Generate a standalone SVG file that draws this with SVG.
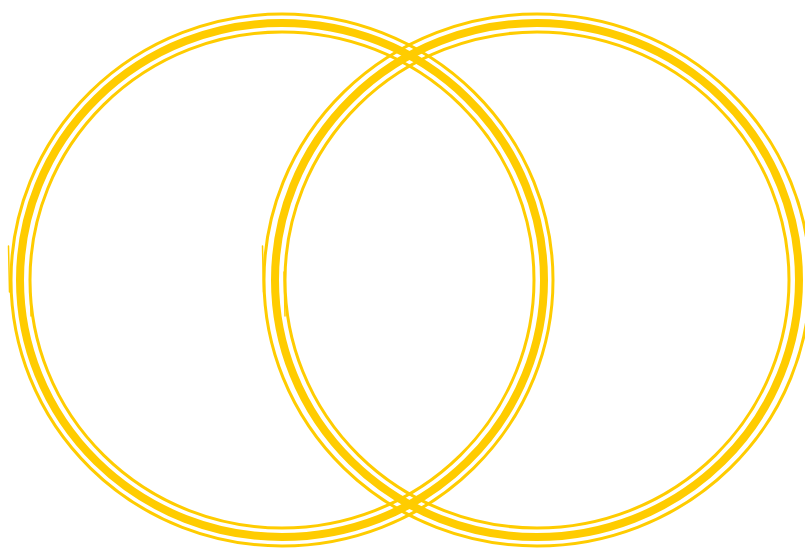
<svg xmlns="http://www.w3.org/2000/svg" width="805" height="550" viewBox="0 0 805 550">
  <style>
    .thin { fill: none; stroke: #ffcc00; stroke-width: 3; }
    .thick { fill: none; stroke: #ffcc00; stroke-width: 8; }
    .tick { fill: none; stroke: #ffcc00; stroke-width: 1.5; stroke-linecap: round; }
  </style>
  <rect width="805" height="550" fill="#ffffff"/>
  <g id="circle-left">
    <ellipse class="thin" cx="282" cy="280" rx="271" ry="266"/>
    <ellipse class="thick" cx="282" cy="280" rx="262" ry="257"/>
    <ellipse class="thin" cx="282" cy="280" rx="252" ry="248"/>
    <path class="tick" d="M8.5 246 L9.5 292"/>
    <path class="tick" d="M30 272 L31 316"/>
  </g>
  <g id="circle-right">
    <ellipse class="thin" cx="537" cy="280" rx="273" ry="266"/>
    <ellipse class="thick" cx="537" cy="280" rx="262" ry="257"/>
    <ellipse class="thin" cx="537" cy="280" rx="252" ry="248"/>
    <path class="tick" d="M262.5 246 L263.5 292"/>
    <path class="tick" d="M284 272 L285 316"/>
  </g>
  <g id="connectors"></g>
</svg>
